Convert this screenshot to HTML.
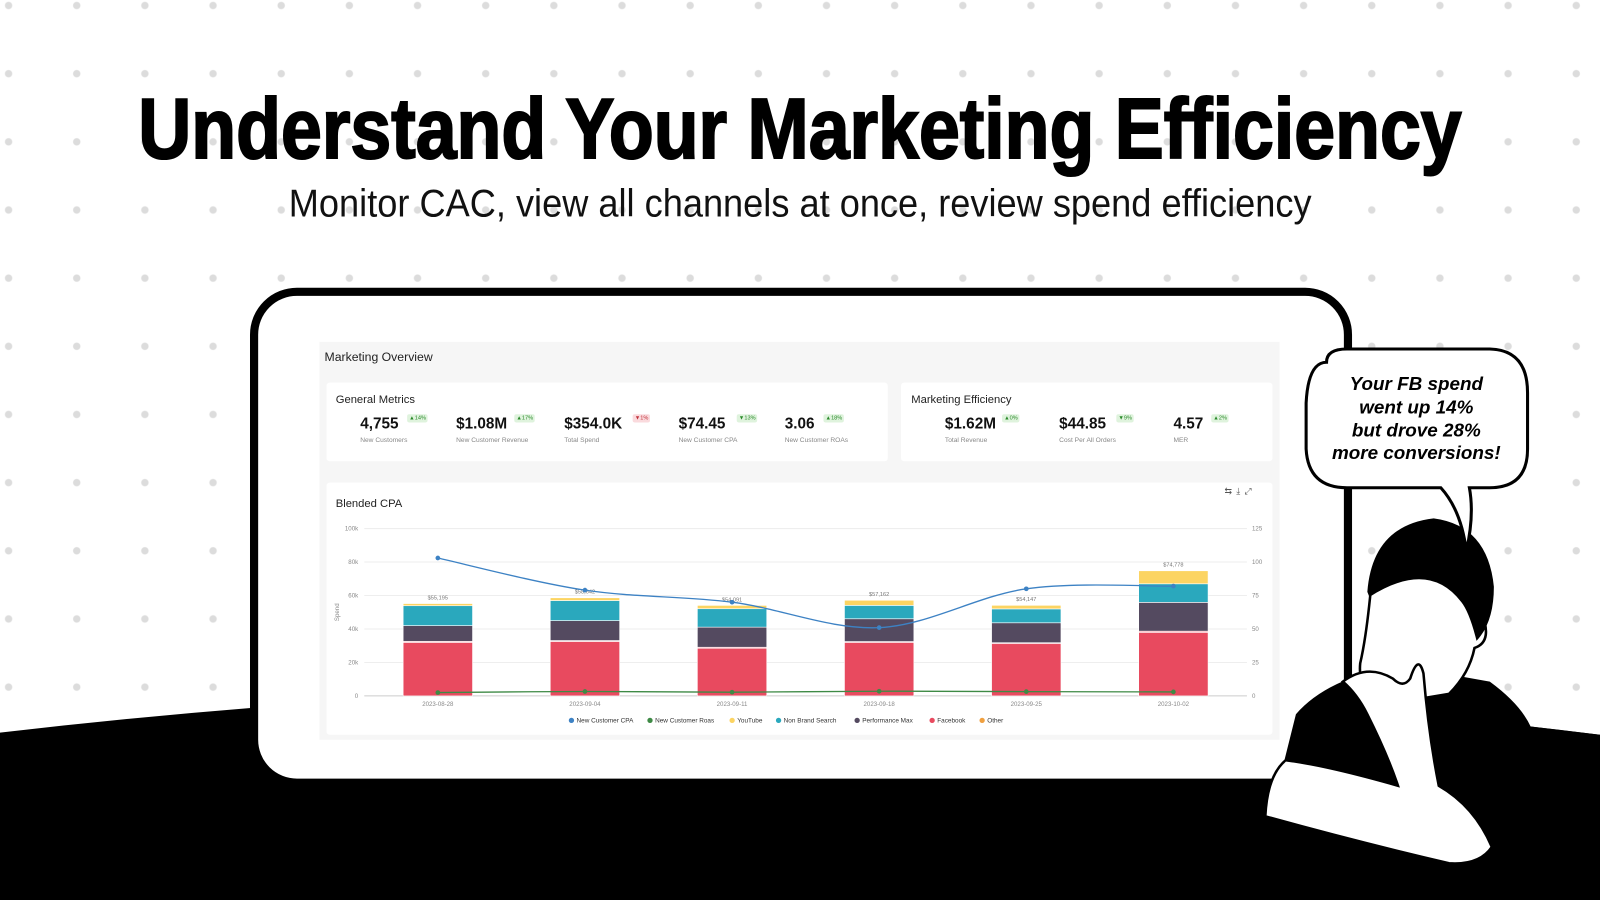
<!DOCTYPE html>
<html><head><meta charset="utf-8">
<style>
html,body{margin:0;padding:0;width:1600px;height:900px;overflow:hidden;background:#fff;font-family:"Liberation Sans",sans-serif}
#frame{position:absolute;left:0;top:0;width:1568px;height:882px;transform:scale(1.020408);transform-origin:0 0;overflow:hidden;
background-image:radial-gradient(circle,#dcdcdc 3.2px,transparent 4px);background-size:66.8px 66.8px;background-position:-25px -28px}
.abs{position:absolute}
#title{left:0;top:78px;width:1568px;text-align:center;font-weight:bold;font-size:84px;white-space:nowrap;color:#000;-webkit-text-stroke:2px #000}
#title span,#sub span{display:inline-block;transform-origin:50% 50%}
#sub{left:0;top:179px;width:1568px;text-align:center;font-size:38px;white-space:nowrap;color:#111}
#tablet{left:245px;top:282px;width:1064px;height:473px;border:8px solid #000;border-radius:46px;background:#fff;box-sizing:content-box}
#panel{left:313px;top:335px;width:941px;height:390px;background:#f6f6f6}
.card{position:absolute;background:#fff;border-radius:3px}
.ct{position:absolute;font-size:11px;color:#222}
.mv{position:absolute;font-size:15px;font-weight:bold;color:#111;white-space:nowrap}
.ml{position:absolute;font-size:6.5px;color:#888;white-space:nowrap}
.bd{position:absolute;font-size:5.5px;padding:1px 2px;border-radius:2px;background:#dff3dd;color:#2a8a2a;white-space:nowrap}
.bd.r{background:#fadadd;color:#c0303a}
</style></head><body>
<div id="frame">
<svg class="abs" style="left:0;top:0" width="1568" height="882">
<path d="M0,718 Q800,625 1568,720 L1568,882 L0,882 Z" fill="#000"/>
</svg>
<div id="title" class="abs"><span id="tsp">Understand Your Marketing Efficiency</span></div>
<div id="sub" class="abs"><span id="ssp">Monitor CAC, view all channels at once, review spend efficiency</span></div>
<div id="tablet" class="abs"></div>
<div id="panel" class="abs">
 <div class="ct" style="left:5px;top:8px;font-size:12px">Marketing Overview</div>
 <div class="card" style="left:7px;top:40px;width:550px;height:77px">
  <div class="ct" style="left:9px;top:11px">General Metrics</div>
  <div class="mv" style="left:33px;top:32px">4,755</div><div class="bd" style="left:79px;top:31px">▲14%</div><div class="ml" style="left:33px;top:53px">New Customers</div>
  <div class="mv" style="left:127px;top:32px">$1.08M</div><div class="bd" style="left:184px;top:31px">▲17%</div><div class="ml" style="left:127px;top:53px">New Customer Revenue</div>
  <div class="mv" style="left:233px;top:32px">$354.0K</div><div class="bd r" style="left:300px;top:31px">▼1%</div><div class="ml" style="left:233px;top:53px">Total Spend</div>
  <div class="mv" style="left:345px;top:32px">$74.45</div><div class="bd" style="left:402px;top:31px">▼13%</div><div class="ml" style="left:345px;top:53px">New Customer CPA</div>
  <div class="mv" style="left:449px;top:32px">3.06</div><div class="bd" style="left:487px;top:31px">▲18%</div><div class="ml" style="left:449px;top:53px">New Customer ROAs</div>
 </div>
 <div class="card" style="left:570px;top:40px;width:364px;height:77px">
  <div class="ct" style="left:10px;top:11px">Marketing Efficiency</div>
  <div class="mv" style="left:43px;top:32px">$1.62M</div><div class="bd" style="left:99px;top:31px">▲0%</div><div class="ml" style="left:43px;top:53px">Total Revenue</div>
  <div class="mv" style="left:155px;top:32px">$44.85</div><div class="bd" style="left:211px;top:31px">▼9%</div><div class="ml" style="left:155px;top:53px">Cost Per All Orders</div>
  <div class="mv" style="left:267px;top:32px">4.57</div><div class="bd" style="left:304px;top:31px">▲2%</div><div class="ml" style="left:267px;top:53px">MER</div>
 </div>
 <div class="card" style="left:7px;top:138px;width:927px;height:247px">
  <div class="ct" style="left:9px;top:15px">Blended CPA</div>
  <div class="abs" style="left:880px;top:3px;font-size:9px;color:#555;letter-spacing:4px">⇆⤓⤢</div>
  <svg id="chart" class="abs" style="left:0;top:0" width="927" height="247"></svg>
 </div>
</div>
<svg class="abs" style="left:0;top:0" width="1568" height="882">
 <path d="M1255,760 L1270,700 Q1300,665 1370,652 L1460,668 Q1490,690 1500,712 L1568,720 L1568,882 L1230,882 Z" fill="#000"/>
 <path d="M1345,560 Q1340,620 1333,650 Q1330,680 1360,690 L1420,680 Q1440,660 1445,635 Q1460,630 1455,610 Q1440,560 1400,540 Q1360,540 1345,560 Z" fill="#fff" stroke="#000" stroke-width="2.5"/>
 <path d="M1340,580 Q1345,515 1405,508 Q1458,515 1464,575 Q1464,610 1447,628 Q1440,600 1432,590 Q1400,548 1342,585 Z" fill="#000"/>
 <path d="M1316,668 Q1340,650 1365,665 Q1375,675 1382,665 Q1390,640 1395,660 Q1400,720 1410,770 Q1445,790 1462,830 Q1450,848 1420,846 Q1330,825 1240,800 Q1242,760 1260,745 Q1300,750 1370,770 Q1360,740 1340,700 Q1330,680 1316,668 Z" fill="#fff" stroke="#000" stroke-width="2.5"/>
 <path d="M1300,355 Q1282,355 1280,395 L1280,440 Q1282,478 1320,478 L1412,478 Q1432,500 1437,540 Q1445,505 1440,478 L1460,478 Q1497,478 1497,440 L1497,385 Q1497,343 1460,342 L1320,342 Q1300,342 1300,355 Z" fill="#fff" stroke="#000" stroke-width="3"/>
 <g font-family="Liberation Sans, sans-serif" font-weight="bold" font-style="italic" font-size="18.5" text-anchor="middle" fill="#000">
  <text x="1388" y="382">Your FB spend</text><text x="1388" y="405">went up 14%</text>
  <text x="1388" y="428">but drove 28%</text><text x="1388" y="450">more conversions!</text>
 </g>
</svg>
</div>
<script>
const categories=["2023-08-28","2023-09-04","2023-09-11","2023-09-18","2023-09-25","2023-10-02"];
const facebook=[32000,32500,28500,32000,31200,38000];
const other=[600,600,600,500,600,700];
const perfMax=[9400,11900,12000,13600,11900,17200];
const nonBrand=[11900,12000,11000,8000,8300,11100];
const youtube=[1295,1642,1991,3062,2147,7778];
const totalLabels=["$55,195","$58,642","$54,091","$57,162","$54,147","$74,778"];
const cpa=[103,79,70,51,80,82];
const roas=[2.5,3.3,2.8,3.5,3.2,3.0];
const leftTicks=[0,20000,40000,60000,80000,100000];
const leftTickLabels=["0","20k","40k","60k","80k","100k"];
const rightTicks=[0,25,50,75,100,125];
(function(){
 const s=document.getElementById('chart'),NS='http://www.w3.org/2000/svg';
 const X0=37,X1=902,YT=45,YB=209;
 const bw=(X1-X0)/categories.length;
 const xc=i=>X0+bw*(i+0.5);
 const yl=v=>YB-(v/100000)*(YB-YT);
 const yr=v=>YB-(v/125)*(YB-YT);
 function el(t,a,p){const e=document.createElementNS(NS,t);for(const k in a)e.setAttribute(k,a[k]);(p||s).appendChild(e);return e;}
 leftTicks.forEach((v,i)=>{
  const g=el('line',{x1:X0,x2:X1,y1:yl(v),y2:yl(v),stroke:i==0?'#ccc':'#eee','stroke-width':1});
  
  
  const t=el('text',{x:X0-6,y:yl(v)+2,'font-size':6,fill:'#888','text-anchor':'end'});t.textContent=leftTickLabels[i];
  
  
 });
 rightTicks.forEach(v=>{
  const t=el('text',{x:X1+5,y:yr(v)+2,'font-size':6,fill:'#888'});t.textContent=v;
  
  
 });
 const yt=el('text',{x:0,y:0,'font-size':6,fill:'#888','text-anchor':'middle',transform:`translate(12,${(YT+YB)/2}) rotate(-90)`});yt.textContent='Spend';
 
 
 const series=[[facebook,'#e84a5f','facebook'],[other,'#f4a5ad','other'],[perfMax,'#544a60','performance-max'],[nonBrand,'#2aa8bd','non-brand-search'],[youtube,'#fcd462','youtube']];
 const W=68;
 categories.forEach((c,i)=>{
  let acc=0;
  series.forEach(([arr,col,nm])=>{
   const y0=yl(acc),y1=yl(acc+arr[i]);acc+=arr[i];
   const r=el('rect',{x:xc(i)-W/2,y:y1,width:W,height:Math.max(0,y0-y1),fill:col,stroke:'#fff','stroke-width':0.6});
   
   
  });
  const tl=el('text',{x:xc(i),y:yl(acc)-4,'font-size':5.5,fill:'#777','text-anchor':'middle'});tl.textContent=totalLabels[i];
  
  
  const xl=el('text',{x:xc(i),y:YB+10,'font-size':6,fill:'#888','text-anchor':'middle'});xl.textContent=c;
  
  
 });
 function smooth(pts){let d=`M${pts[0][0]},${pts[0][1]}`;for(let i=0;i<pts.length-1;i++){const p0=pts[i-1]||pts[i],p1=pts[i],p2=pts[i+1],p3=pts[i+2]||p2;
  d+=` C${p1[0]+(p2[0]-p0[0])/6},${p1[1]+(p2[1]-p0[1])/6} ${p2[0]-(p3[0]-p1[0])/6},${p2[1]-(p3[1]-p1[1])/6} ${p2[0]},${p2[1]}`;}return d;}
 [[cpa,'#3d82c4','cpa-line'],[roas,'#3e8a45','roas-line']].forEach(([arr,col,nm])=>{
  const pts=arr.map((v,i)=>[xc(i),yr(v)]);
  const p=el('path',{d:smooth(pts),fill:'none',stroke:col,'stroke-width':1.3});
  
  
  pts.forEach(q=>{const c=el('circle',{cx:q[0],cy:q[1],r:2.3,fill:col});
   
   });
 });
 const leg=[['New Customer CPA','#3d82c4'],['New Customer Roas','#3e8a45'],['YouTube','#fcd462'],['Non Brand Search','#2aa8bd'],['Performance Max','#544a60'],['Facebook','#e84a5f'],['Other','#f0a040']];
 let lx=240;
 leg.forEach(([n,c])=>{
  const g=el('g',{});
  
  
  el('circle',{cx:lx,cy:233,r:2.6,fill:c},g);
  const t=el('text',{x:lx+5,y:235,'font-size':6.3,fill:'#333'},g);t.textContent=n;
  lx+=n.length*3.5+21;
 });
})();
function fit(id,w){const e=document.getElementById(id);const r=e.offsetWidth;e.style.transform=`scaleX(${w/r})`;}
fit('tsp',1297);fit('ssp',1002);
</script>
</body></html>
